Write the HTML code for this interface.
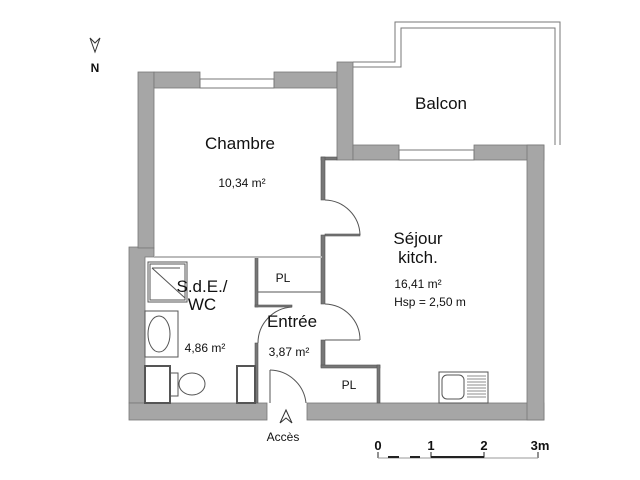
<!DOCTYPE html>
<html><head><meta charset="utf-8"><style>body{margin:0;background:#fff}svg{display:block}text{font-family:"Liberation Sans",Arial,sans-serif;fill:#111}</style></head><body>
<svg width="640" height="480" viewBox="0 0 640 480" xmlns="http://www.w3.org/2000/svg">
<g fill="#a6a6a6" stroke="#777" stroke-width="0.8">
<!-- left upper wall -->
<rect x="138" y="72" width="16" height="176"/>
<!-- left lower wall -->
<polygon points="129,247 138,247 138,248 154,248 154,257 145,257 145,403 129,403"/>
<rect x="129" y="403" width="138" height="17"/>
<rect x="307" y="403" width="237" height="17"/>
<!-- top wall chambre -->
<rect x="154" y="72" width="46" height="16"/>
<rect x="274" y="72" width="63" height="16"/>
<!-- chambre/balcon wall -->
<rect x="337" y="62" width="16" height="98"/>
<rect x="353" y="145" width="46" height="15"/>
<rect x="474" y="145" width="70" height="15"/>
<!-- right wall -->
<rect x="527" y="145" width="17" height="275"/>
</g>
<g fill="none" stroke="#777" stroke-width="1">
<!-- windows -->
<rect x="200" y="79" width="74" height="9"/>
<rect x="399" y="150" width="75" height="10"/>
<!-- balcony -->
<polyline points="353,62 395,62 395,22 560,22 560,145"/>
<polyline points="353,67 401,67 401,28 555,28 555,145"/>
</g>
<!-- thin interior walls -->
<g fill="#777" stroke="#555" stroke-width="0.6">
<rect x="321" y="157" width="16" height="3"/>
<rect x="321" y="157" width="4" height="43"/>
<rect x="321" y="235" width="4" height="69"/>
<rect x="325" y="234" width="35" height="2"/>
<rect x="321" y="340" width="4" height="27"/>
<rect x="321" y="365" width="59" height="3"/>
<rect x="377" y="365" width="3" height="38"/>
<rect x="255" y="257" width="3" height="50"/>
<rect x="255" y="305" width="37" height="2"/>
<rect x="255" y="343" width="3" height="60"/>
<rect x="154" y="256" width="168" height="2" fill="#bbb" stroke="none"/>
</g>
<g fill="none" stroke="#555" stroke-width="1">
<!-- doors -->
<path d="M325,200 A36,36 0 0 1 360,235"/>
<path d="M325,304 A36,36 0 0 1 360,340"/>
<line x1="325" y1="340" x2="360" y2="340"/>
<path d="M258,343 A36,36 0 0 1 292,307"/>
<path d="M270,370 A37,37 0 0 1 306,403"/>
<line x1="270" y1="370" x2="270" y2="403"/>
<!-- PL top -->
<line x1="258" y1="292" x2="321" y2="292"/>
<!-- shower -->
<rect x="148" y="262" width="39" height="40"/>
<rect x="150" y="264" width="35" height="36"/>
<line x1="152" y1="268" x2="185" y2="298"/>
<line x1="152" y1="268" x2="180" y2="268"/>
<!-- basin -->
<rect x="145" y="311" width="33" height="46"/>
<ellipse cx="159" cy="334" rx="11" ry="18"/>
<!-- wc -->
<rect x="145" y="366" width="25" height="37" stroke-width="2"/>
<rect x="170" y="373" width="8" height="23"/>
<ellipse cx="192" cy="384" rx="13" ry="11"/>
<rect x="237" y="366" width="18" height="37" stroke-width="2"/>
<!-- sink -->
<rect x="439" y="372" width="49" height="31"/>
<rect x="442" y="375" width="22" height="24" rx="5"/>
</g>
<g stroke="#666" stroke-width="0.8">
<line x1="467" y1="376" x2="486" y2="376"/><line x1="467" y1="379" x2="486" y2="379"/><line x1="467" y1="382" x2="486" y2="382"/><line x1="467" y1="385" x2="486" y2="385"/><line x1="467" y1="388" x2="486" y2="388"/><line x1="467" y1="391" x2="486" y2="391"/><line x1="467" y1="394" x2="486" y2="394"/><line x1="467" y1="397" x2="486" y2="397"/>
</g>
<!-- arrows -->
<path d="M90,38 L95,52 L100,38 L95,43 Z" fill="none" stroke="#333" stroke-width="1"/>
<path d="M280,423 L286,410 L292,423 L286,418 Z" fill="none" stroke="#333" stroke-width="1"/>
<!-- scale -->
<g stroke="#222" fill="none">
<line x1="378" y1="452" x2="378" y2="458"/><line x1="431" y1="452" x2="431" y2="458"/><line x1="484" y1="452" x2="484" y2="458"/><line x1="538" y1="452" x2="538" y2="458"/>
<line x1="378" y1="458" x2="538" y2="458" stroke="#999"/>
<line x1="431" y1="457" x2="484" y2="457" stroke-width="2"/>
<line x1="388" y1="457" x2="399" y2="457" stroke-width="2"/><line x1="410" y1="457" x2="420" y2="457" stroke-width="2"/>
</g>
<g font-size="13" font-weight="bold" text-anchor="middle">
<text x="378" y="450">0</text><text x="431" y="450">1</text><text x="484" y="450">2</text><text x="540" y="450">3m</text>
<text x="95" y="72" font-size="12">N</text>
</g>
<text x="441" y="109" font-size="17" text-anchor="middle">Balcon</text>
<text x="240" y="149" font-size="17" text-anchor="middle">Chambre</text>
<text x="242" y="187" font-size="12" text-anchor="middle">10,34 m²</text>
<text x="418" y="244" font-size="17" text-anchor="middle">Séjour</text>
<text x="418" y="263" font-size="17" text-anchor="middle">kitch.</text>
<text x="418" y="288" font-size="12" text-anchor="middle">16,41 m²</text>
<text x="430" y="306" font-size="12" text-anchor="middle">Hsp = 2,50 m</text>
<text x="202" y="292" font-size="17" text-anchor="middle">S.d.E./</text>
<text x="202" y="310" font-size="17" text-anchor="middle">WC</text>
<text x="205" y="352" font-size="12" text-anchor="middle">4,86 m²</text>
<text x="292" y="327" font-size="17" text-anchor="middle">Entrée</text>
<text x="289" y="356" font-size="12" text-anchor="middle">3,87 m²</text>
<text x="283" y="282" font-size="12" text-anchor="middle">PL</text>
<text x="349" y="389" font-size="12" text-anchor="middle">PL</text>
<text x="283" y="441" font-size="12" text-anchor="middle">Accès</text>
</svg>
</body></html>
